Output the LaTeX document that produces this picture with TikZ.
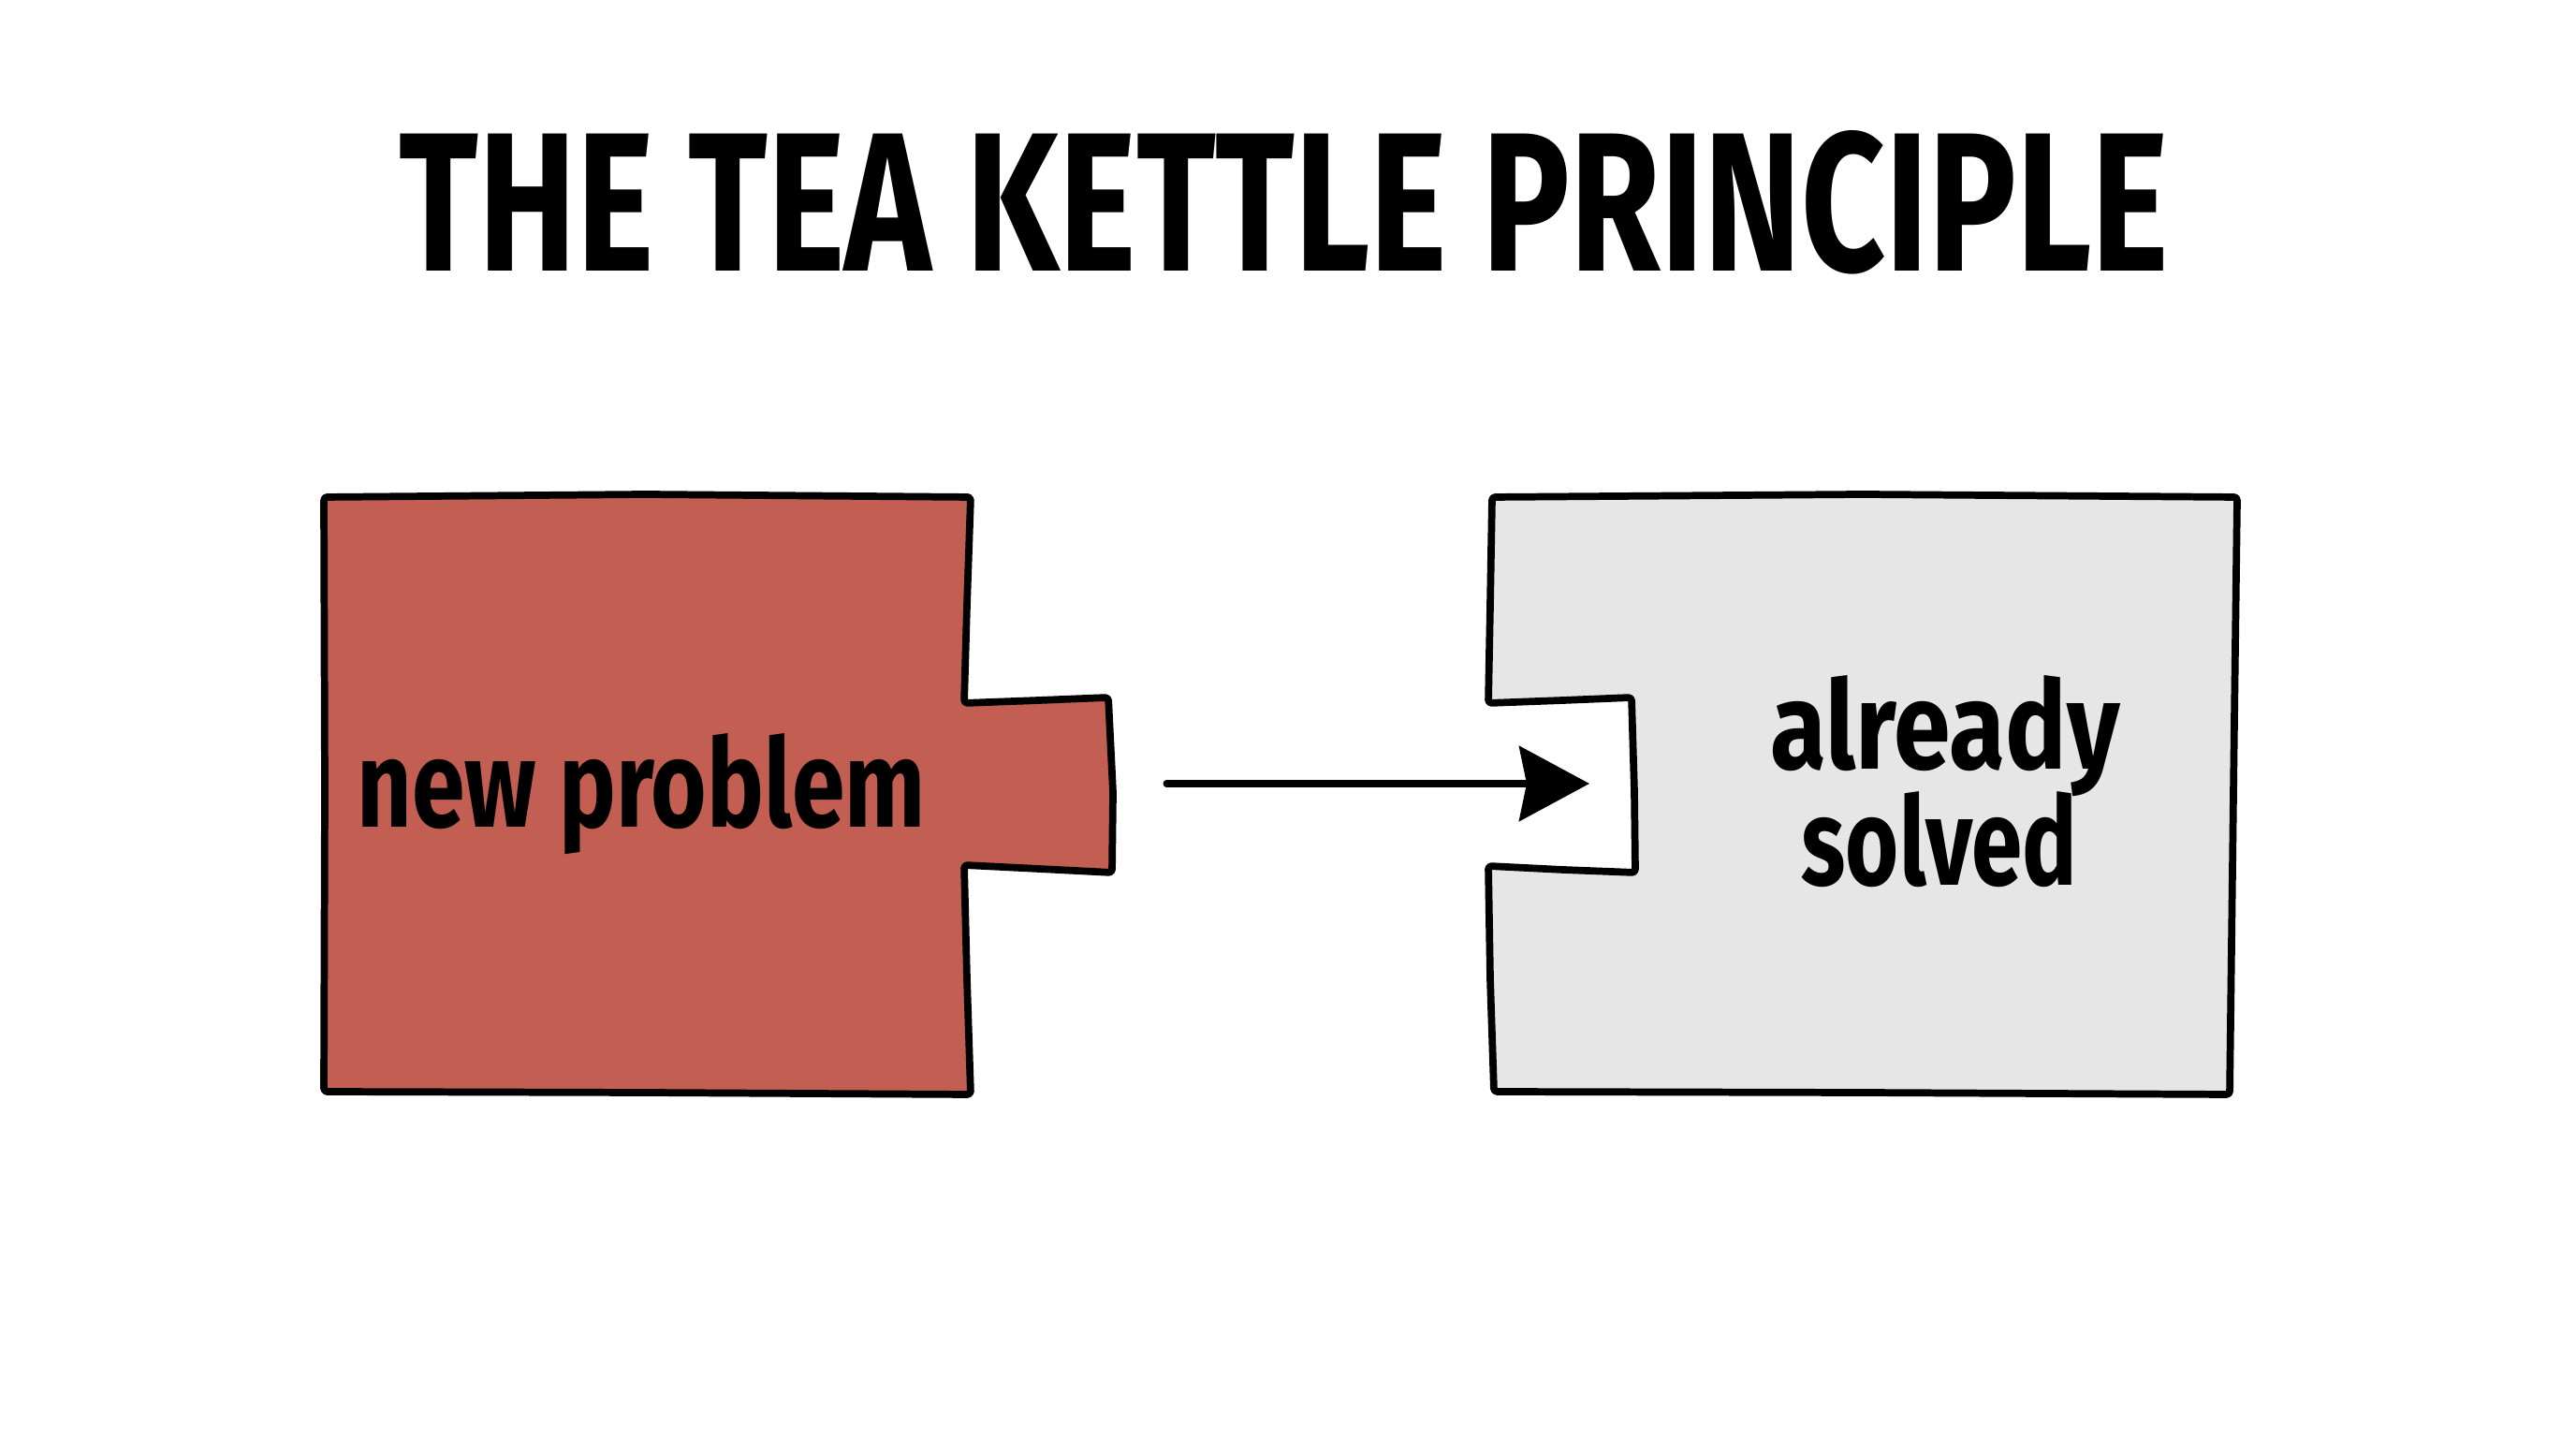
\documentclass[tikz,border=0pt]{standalone}
\usepackage{xcolor}
\usepackage{graphicx}
\usepackage{fontspec}
\setmainfont{Fira Sans}
\usetikzlibrary{calc}
\usetikzlibrary{arrows.meta}
\usetikzlibrary{positioning}
\tikzset{>=latex}
\definecolor{brick}{HTML}{C35E53}
\definecolor{paper}{HTML}{E6E6E6}
\tikzstyle{piece} = [draw = black, line width = 2.2pt, line join = round, rounded corners = 1pt]
\tikzstyle{lbl} = [draw = none, inner sep = 0, anchor = base, font = \bfseries]

\begin{document}
\begin{tikzpicture}
\useasboundingbox [fill = white] (0, 0) rectangle (27.52, 15.36);
%\node [draw = none] at (13.7, 14.5) {title};
\node [lbl] (title) at (13.72, 12.46) {\resizebox{18.9cm}{1.5cm}{THE TEA KETTLE PRINCIPLE}};
% new problem piece, tab to the right
\draw [piece, fill = brick] (3.46, 10.05) -- (6.9, 10.08) -- (10.37, 10.05) -- (10.33, 8.9) -- (10.30, 7.85)
  -- (11.1, 7.88) -- (11.84, 7.91) -- (11.89, 6.9) -- (11.88, 6.04) -- (11.1, 6.08) -- (10.30, 6.12)
  -- (10.33, 4.9) -- (10.37, 3.67) -- (6.9, 3.69) -- (3.46, 3.70) -- (3.47, 6.9) -- cycle;
% already solved piece, notch to the left
\draw [piece, fill = paper] (15.94, 10.05) -- (19.9, 10.08) -- (23.90, 10.05) -- (23.86, 6.9) -- (23.82, 3.67)
  -- (19.9, 3.69) -- (15.96, 3.70) -- (15.92, 4.9) -- (15.90, 6.11) -- (16.7, 6.07) -- (17.47, 6.04)
  -- (17.46, 6.9) -- (17.43, 7.91) -- (16.7, 7.88) -- (15.90, 7.85) -- (15.92, 8.9) -- cycle;
\coordinate (tab) at (11.90, 6.99);
\coordinate (notch) at (17.45, 6.99);
\node [lbl] (new) at (6.85, 6.52) {\resizebox{6.07cm}{1.0cm}{new problem}};
\node [lbl] (already) at (20.78, 7.14) {\resizebox{3.73cm}{1.0cm}{already}};
\node [lbl] (solved) at (20.72, 5.90) {\resizebox{2.95cm}{1.0cm}{solved}};
\draw [-{Stealth[length = 0.75cm, width = 0.8cm, inset = 0.08cm]}, line width = 2pt, line cap = round] ([xshift = 0.56cm]tab) -- ([xshift = -0.47cm]notch);
\end{tikzpicture}
\end{document}
